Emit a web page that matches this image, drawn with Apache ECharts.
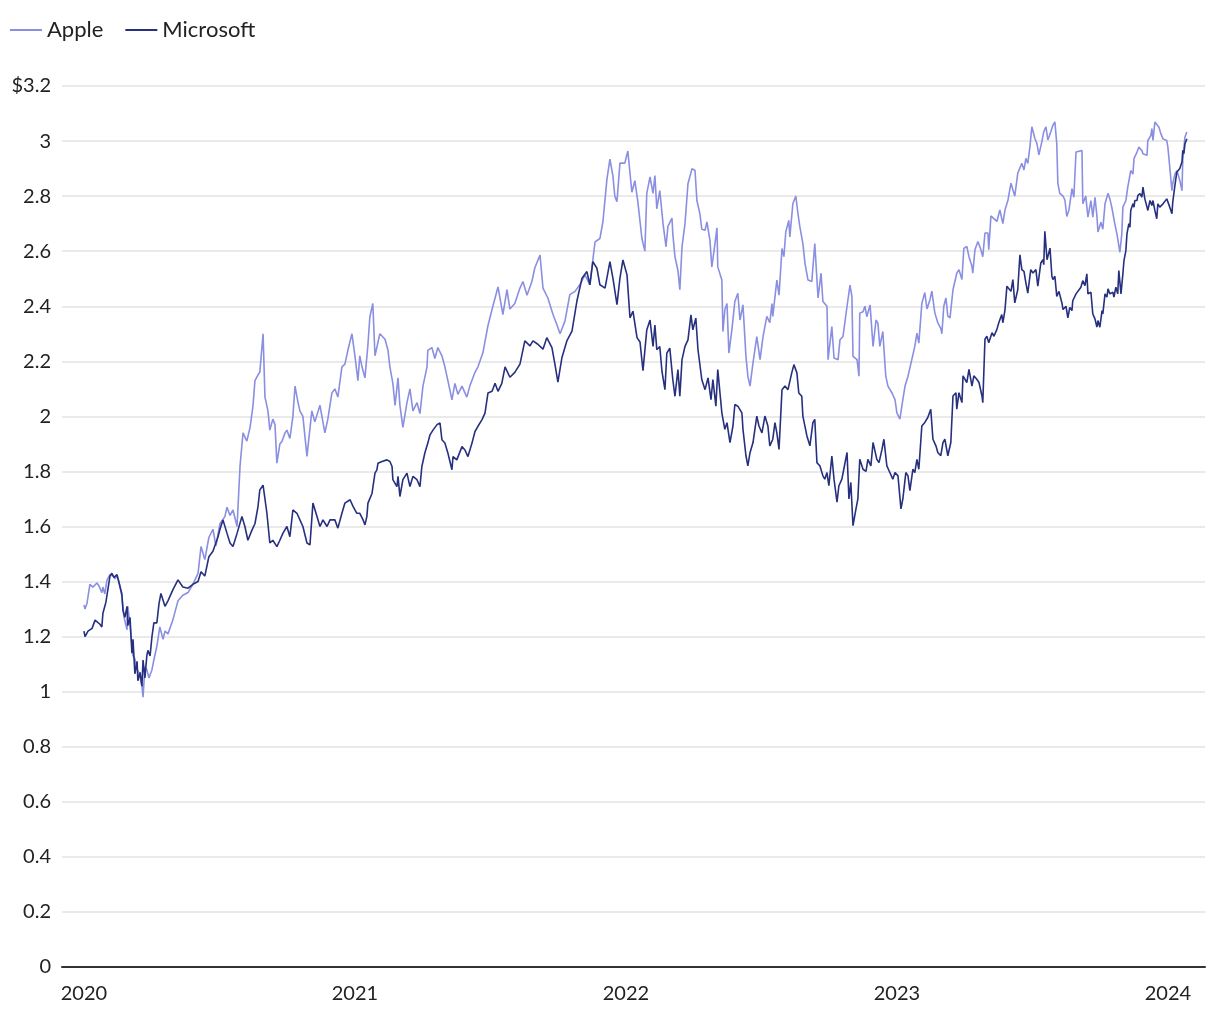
<!DOCTYPE html>
<html>
<head>
<meta charset="utf-8">
<script src="https://cdn.jsdelivr.net/npm/echarts@6/dist/echarts.min.js"></script>
<style>
html,body{margin:0;padding:0;background:#fff;}
#chart{width:1220px;height:1020px;}
</style>
</head>
<body>
<div id="chart"></div>
<script>
// Market capitalisation, trillions of US dollars. Time as decimal years.
const seriesNames = ['Apple', 'Microsoft'];
const yearTicks = [2020, 2021, 2022, 2023, 2024];

const appleT = [
2020.000,2020.004,2020.011,2020.022,2020.033,2020.048,2020.055,2020.066,2020.070,2020.077,2020.085,2020.096,2020.107,2020.114,2020.122,2020.129,2020.140,2020.148,2020.159,2020.162,2020.170,2020.181,2020.188,2020.196,2020.203,2020.214,2020.218,2020.225,2020.232,2020.240,2020.251,2020.258,2020.269,2020.280,2020.292,2020.299,2020.310,2020.328,2020.347,2020.365,2020.384,2020.402,2020.421,2020.432,2020.446,2020.461,2020.476,2020.487,2020.502,2020.520,2020.528,2020.539,2020.550,2020.565,2020.576,2020.587,2020.601,2020.613,2020.624,2020.631,2020.642,2020.649,2020.661,2020.668,2020.679,2020.686,2020.697,2020.705,2020.712,2020.723,2020.731,2020.742,2020.749,2020.760,2020.771,2020.779,2020.790,2020.797,2020.808,2020.823,2020.827,2020.841,2020.852,2020.871,2020.889,2020.900,2020.915,2020.926,2020.937,2020.952,2020.963,2020.974,2020.989,
2021.000,2021.011,2021.018,2021.026,2021.037,2021.048,2021.055,2021.066,2021.074,2021.092,2021.111,2021.122,2021.129,2021.140,2021.148,2021.159,2021.166,2021.177,2021.192,2021.203,2021.214,2021.229,2021.240,2021.251,2021.266,2021.269,2021.284,2021.295,2021.306,2021.321,2021.332,2021.343,2021.358,2021.369,2021.380,2021.395,2021.413,2021.424,2021.443,2021.454,2021.472,2021.491,2021.509,2021.528,2021.546,2021.561,2021.572,2021.590,2021.609,2021.620,2021.635,2021.653,2021.664,2021.683,2021.694,2021.712,2021.731,2021.745,2021.757,2021.775,2021.793,2021.812,2021.830,2021.849,2021.867,2021.886,2021.904,2021.915,2021.930,2021.941,2021.952,2021.959,2021.967,2021.978,2021.996,
2022.007,2022.022,2022.033,2022.044,2022.059,2022.070,2022.077,2022.089,2022.100,2022.107,2022.114,2022.125,2022.137,2022.148,2022.155,2022.170,2022.173,2022.181,2022.192,2022.199,2022.207,2022.218,2022.229,2022.244,2022.255,2022.262,2022.273,2022.280,2022.292,2022.299,2022.310,2022.317,2022.325,2022.336,2022.339,2022.354,2022.358,2022.365,2022.373,2022.380,2022.391,2022.402,2022.413,2022.421,2022.432,2022.443,2022.450,2022.458,2022.469,2022.483,2022.495,2022.506,2022.520,2022.531,2022.539,2022.542,2022.557,2022.565,2022.576,2022.583,2022.590,2022.601,2022.605,2022.616,2022.627,2022.635,2022.642,2022.653,2022.661,2022.672,2022.686,2022.697,2022.709,2022.720,2022.727,2022.742,2022.746,2022.760,2022.768,2022.783,2022.790,2022.801,2022.816,2022.827,2022.834,2022.838,2022.853,2022.860,2022.863,2022.875,2022.882,2022.889,2022.901,2022.912,2022.923,2022.930,2022.937,2022.948,2022.959,2022.967,2022.982,2022.993,
2023.000,2023.011,2023.022,2023.030,2023.041,2023.055,2023.066,2023.074,2023.081,2023.092,2023.103,2023.111,2023.122,2023.129,2023.140,2023.151,2023.162,2023.166,2023.173,2023.181,2023.188,2023.196,2023.207,2023.221,2023.229,2023.240,2023.247,2023.258,2023.266,2023.277,2023.280,2023.288,2023.299,2023.310,2023.317,2023.325,2023.336,2023.339,2023.347,2023.354,2023.369,2023.380,2023.391,2023.399,2023.410,2023.421,2023.428,2023.435,2023.446,2023.461,2023.469,2023.476,2023.483,2023.491,2023.498,2023.509,2023.517,2023.524,2023.535,2023.542,2023.550,2023.557,2023.568,2023.576,2023.583,2023.590,2023.594,2023.601,2023.613,2023.620,2023.627,2023.635,2023.646,2023.653,2023.661,2023.668,2023.683,2023.686,2023.697,2023.705,2023.716,2023.723,2023.731,2023.738,2023.742,2023.753,2023.760,2023.768,2023.779,2023.786,2023.793,2023.804,2023.812,2023.823,2023.830,2023.834,2023.845,2023.852,2023.863,2023.871,2023.875,2023.886,2023.893,2023.904,2023.908,2023.915,2023.923,2023.926,2023.937,2023.941,2023.945,2023.952,2023.959,2023.967,2023.974,2023.982,2023.996,
2024.000,2024.007,2024.015,2024.018,2024.026,2024.033,2024.037,2024.044,2024.052,2024.055,2024.063,2024.070
];
const appleV = [
1.315,1.30,1.32,1.39,1.38,1.395,1.385,1.36,1.38,1.355,1.405,1.425,1.42,1.41,1.42,1.40,1.345,1.27,1.225,1.31,1.24,1.13,1.12,1.08,1.07,1.02,0.98,1.09,1.08,1.05,1.08,1.115,1.165,1.235,1.19,1.22,1.21,1.26,1.33,1.35,1.36,1.39,1.43,1.527,1.48,1.56,1.59,1.53,1.61,1.636,1.67,1.64,1.66,1.60,1.82,1.94,1.91,1.96,2.04,2.13,2.15,2.16,2.30,2.07,2.02,1.95,1.99,1.97,1.83,1.90,1.91,1.94,1.95,1.92,2.00,2.11,2.05,2.02,2.00,1.855,1.86,2.02,1.98,2.04,1.94,1.99,2.085,2.10,2.07,2.18,2.19,2.24,2.30,
2.22,2.13,2.22,2.18,2.14,2.26,2.36,2.41,2.22,2.30,2.28,2.24,2.18,2.12,2.04,2.14,2.04,1.96,2.05,2.10,2.02,2.05,2.01,2.11,2.18,2.24,2.25,2.21,2.25,2.22,2.18,2.13,2.06,2.12,2.08,2.11,2.07,2.11,2.16,2.18,2.23,2.33,2.40,2.47,2.37,2.46,2.39,2.41,2.466,2.49,2.44,2.49,2.54,2.586,2.466,2.43,2.37,2.334,2.30,2.346,2.442,2.454,2.478,2.514,2.478,2.634,2.646,2.706,2.862,2.934,2.874,2.80,2.78,2.92,2.92,
2.964,2.814,2.856,2.78,2.646,2.60,2.81,2.87,2.81,2.875,2.754,2.82,2.70,2.616,2.69,2.72,2.664,2.58,2.53,2.46,2.616,2.70,2.845,2.90,2.893,2.784,2.736,2.68,2.676,2.706,2.64,2.543,2.60,2.685,2.543,2.495,2.308,2.387,2.41,2.23,2.314,2.417,2.447,2.35,2.405,2.218,2.146,2.11,2.194,2.29,2.206,2.29,2.363,2.34,2.41,2.363,2.495,2.44,2.61,2.58,2.67,2.712,2.652,2.772,2.80,2.736,2.688,2.628,2.555,2.495,2.49,2.628,2.43,2.52,2.417,2.40,2.206,2.326,2.212,2.206,2.278,2.29,2.40,2.477,2.435,2.218,2.206,2.146,2.375,2.38,2.40,2.362,2.405,2.254,2.35,2.338,2.254,2.308,2.146,2.11,2.085,2.061,
2.013,1.99,2.061,2.11,2.146,2.206,2.254,2.302,2.266,2.41,2.45,2.39,2.424,2.455,2.376,2.34,2.32,2.30,2.40,2.43,2.364,2.358,2.46,2.52,2.533,2.497,2.61,2.617,2.58,2.545,2.52,2.605,2.635,2.605,2.58,2.666,2.666,2.605,2.728,2.726,2.708,2.75,2.70,2.75,2.786,2.847,2.823,2.80,2.883,2.919,2.895,2.937,2.919,2.98,3.052,3.01,2.99,2.95,2.998,3.034,3.052,3.004,3.034,3.058,3.07,2.99,2.847,2.81,2.80,2.786,2.726,2.75,2.827,2.796,2.96,2.966,2.966,2.772,2.80,2.724,2.784,2.724,2.796,2.73,2.67,2.705,2.68,2.772,2.81,2.79,2.76,2.70,2.663,2.596,2.663,2.76,2.784,2.833,2.893,2.88,2.936,2.96,2.978,2.966,2.954,2.96,2.948,3.002,3.02,3.045,3.002,3.069,3.075,3.05,3.027,3.008,3.002,
2.978,2.905,2.82,2.845,2.88,2.893,2.88,2.857,2.82,2.93,3.015,3.033
];

const msftT = [
2020.000,2020.004,2020.015,2020.030,2020.041,2020.048,2020.059,2020.066,2020.070,2020.081,2020.089,2020.096,2020.103,2020.111,2020.122,2020.129,2020.140,2020.144,2020.151,2020.159,2020.162,2020.170,2020.177,2020.181,2020.188,2020.196,2020.199,2020.207,2020.214,2020.218,2020.225,2020.232,2020.236,2020.244,2020.251,2020.258,2020.269,2020.277,2020.284,2020.299,2020.310,2020.328,2020.347,2020.365,2020.384,2020.402,2020.421,2020.432,2020.446,2020.461,2020.476,2020.494,2020.502,2020.513,2020.528,2020.539,2020.550,2020.565,2020.583,2020.594,2020.605,2020.620,2020.631,2020.642,2020.649,2020.661,2020.675,2020.686,2020.697,2020.712,2020.723,2020.734,2020.749,2020.760,2020.771,2020.786,2020.797,2020.808,2020.823,2020.834,2020.845,2020.860,2020.871,2020.882,2020.897,2020.908,2020.926,2020.937,2020.952,2020.963,2020.982,2020.993,
2021.007,2021.018,2021.030,2021.037,2021.044,2021.048,2021.063,2021.074,2021.081,2021.085,2021.100,2021.118,2021.129,2021.137,2021.140,2021.155,2021.159,2021.166,2021.177,2021.192,2021.203,2021.214,2021.229,2021.240,2021.247,2021.258,2021.269,2021.277,2021.288,2021.303,2021.314,2021.321,2021.332,2021.343,2021.358,2021.362,2021.376,2021.395,2021.406,2021.417,2021.432,2021.443,2021.454,2021.469,2021.480,2021.491,2021.506,2021.517,2021.528,2021.542,2021.554,2021.572,2021.590,2021.609,2021.627,2021.646,2021.657,2021.675,2021.694,2021.708,2021.727,2021.738,2021.749,2021.764,2021.782,2021.801,2021.819,2021.838,2021.856,2021.867,2021.878,2021.893,2021.904,2021.923,2021.941,2021.952,2021.967,2021.978,2021.989,
2022.004,2022.015,2022.026,2022.041,2022.052,2022.063,2022.077,2022.089,2022.100,2022.107,2022.114,2022.125,2022.133,2022.144,2022.151,2022.162,2022.173,2022.181,2022.192,2022.199,2022.207,2022.218,2022.229,2022.240,2022.247,2022.258,2022.266,2022.280,2022.292,2022.303,2022.314,2022.321,2022.332,2022.339,2022.354,2022.365,2022.373,2022.384,2022.395,2022.402,2022.413,2022.428,2022.432,2022.443,2022.450,2022.458,2022.469,2022.483,2022.491,2022.502,2022.513,2022.524,2022.531,2022.542,2022.550,2022.557,2022.565,2022.576,2022.587,2022.598,2022.612,2022.620,2022.631,2022.638,2022.649,2022.653,2022.668,2022.679,2022.690,2022.697,2022.705,2022.716,2022.727,2022.734,2022.742,2022.749,2022.760,2022.768,2022.779,2022.786,2022.797,2022.804,2022.816,2022.823,2022.830,2022.838,2022.849,2022.856,2022.863,2022.875,2022.886,2022.893,2022.904,2022.912,2022.926,2022.934,2022.945,2022.952,2022.963,2022.974,2022.985,2022.993,
2023.004,2023.015,2023.022,2023.033,2023.041,2023.048,2023.059,2023.066,2023.074,2023.081,2023.092,2023.103,2023.114,2023.125,2023.133,2023.144,2023.151,2023.162,2023.170,2023.177,2023.188,2023.199,2023.207,2023.218,2023.221,2023.229,2023.240,2023.244,2023.258,2023.266,2023.277,2023.284,2023.295,2023.303,2023.314,2023.317,2023.325,2023.332,2023.339,2023.351,2023.358,2023.369,2023.376,2023.387,2023.391,2023.399,2023.406,2023.410,2023.421,2023.428,2023.435,2023.446,2023.454,2023.461,2023.469,2023.476,2023.483,2023.494,2023.502,2023.513,2023.520,2023.531,2023.539,2023.542,2023.546,2023.554,2023.565,2023.572,2023.576,2023.583,2023.590,2023.598,2023.609,2023.613,2023.624,2023.631,2023.638,2023.646,2023.649,2023.661,2023.668,2023.679,2023.686,2023.694,2023.701,2023.705,2023.716,2023.723,2023.731,2023.738,2023.742,2023.749,2023.757,2023.760,2023.768,2023.775,2023.779,2023.786,2023.797,2023.801,2023.808,2023.815,2023.819,2023.827,2023.834,2023.838,2023.845,2023.849,2023.856,2023.860,2023.863,2023.871,2023.875,2023.878,2023.886,2023.889,2023.897,2023.904,2023.908,2023.915,2023.923,2023.926,2023.934,2023.941,2023.945,2023.952,2023.959,2023.963,2023.970,2023.982,2023.996,
2024.007,2024.015,2024.018,2024.026,2024.033,2024.037,2024.044,2024.052,2024.055,2024.059,2024.063,2024.070
];
const msftV = [
1.22,1.20,1.22,1.23,1.26,1.265,1.245,1.235,1.285,1.325,1.375,1.42,1.43,1.415,1.425,1.42,1.355,1.295,1.27,1.31,1.24,1.27,1.14,1.19,1.065,1.11,1.04,1.07,1.02,1.115,1.05,1.13,1.15,1.13,1.20,1.25,1.25,1.32,1.357,1.31,1.33,1.37,1.406,1.38,1.376,1.39,1.40,1.436,1.42,1.49,1.51,1.56,1.59,1.624,1.575,1.54,1.527,1.575,1.636,1.60,1.55,1.587,1.61,1.67,1.733,1.75,1.65,1.54,1.55,1.527,1.55,1.575,1.60,1.563,1.66,1.648,1.624,1.60,1.54,1.533,1.685,1.636,1.60,1.624,1.60,1.624,1.624,1.594,1.648,1.685,1.697,1.673,
1.648,1.648,1.624,1.606,1.636,1.685,1.72,1.794,1.806,1.83,1.836,1.842,1.836,1.818,1.77,1.745,1.782,1.709,1.77,1.794,1.745,1.782,1.77,1.745,1.818,1.867,1.903,1.933,1.95,1.97,1.976,1.915,1.903,1.867,1.806,1.854,1.842,1.89,1.878,1.854,1.903,1.945,1.964,1.988,2.012,2.085,2.091,2.12,2.091,2.12,2.18,2.142,2.16,2.19,2.274,2.256,2.274,2.262,2.244,2.286,2.25,2.19,2.124,2.214,2.274,2.31,2.418,2.502,2.526,2.478,2.562,2.538,2.478,2.466,2.562,2.502,2.406,2.502,2.568,
2.514,2.358,2.382,2.286,2.27,2.166,2.314,2.35,2.254,2.332,2.242,2.254,2.164,2.097,2.23,2.248,2.134,2.073,2.17,2.073,2.206,2.254,2.278,2.369,2.314,2.357,2.242,2.134,2.097,2.14,2.061,2.134,2.037,2.17,2.013,1.953,1.977,1.905,1.965,2.043,2.037,2.013,1.953,1.857,1.82,1.868,1.905,2.001,1.965,1.94,2.001,1.965,1.893,1.917,1.977,1.94,1.88,2.097,2.11,2.097,2.158,2.188,2.158,2.085,2.073,2.001,1.929,1.893,1.977,1.989,1.832,1.82,1.784,1.772,1.796,1.748,1.856,1.772,1.688,1.748,1.772,1.808,1.869,1.70,1.76,1.603,1.664,1.70,1.844,1.808,1.80,1.844,1.82,1.905,1.844,1.832,1.88,1.917,1.82,1.796,1.772,1.796,
1.784,1.664,1.70,1.796,1.784,1.73,1.808,1.796,1.844,1.808,1.965,1.978,1.996,2.026,1.917,1.893,1.869,1.857,1.905,1.917,1.857,1.905,2.074,2.086,2.026,2.086,2.05,2.147,2.123,2.171,2.11,2.147,2.135,2.123,2.074,2.05,2.28,2.291,2.267,2.304,2.291,2.316,2.34,2.37,2.34,2.388,2.473,2.479,2.454,2.497,2.412,2.46,2.587,2.533,2.527,2.485,2.448,2.533,2.521,2.533,2.473,2.557,2.569,2.551,2.672,2.569,2.611,2.509,2.497,2.509,2.436,2.454,2.412,2.388,2.40,2.358,2.396,2.384,2.42,2.445,2.451,2.469,2.493,2.475,2.518,2.445,2.451,2.372,2.354,2.324,2.348,2.324,2.384,2.372,2.445,2.433,2.463,2.445,2.451,2.433,2.469,2.445,2.53,2.445,2.518,2.566,2.602,2.663,2.70,2.687,2.748,2.772,2.76,2.784,2.784,2.802,2.809,2.796,2.833,2.79,2.76,2.748,2.784,2.766,2.784,2.748,2.718,2.772,2.76,2.772,2.79,
2.76,2.736,2.778,2.839,2.887,2.893,2.90,2.924,2.966,2.954,2.99,3.008
];

function zip(t, v) { return t.map((x, i) => [x, v[i]]); }

const chart = echarts.init(document.getElementById('chart'), null, { renderer: 'canvas' });
const FONT = 'Lato, "Noto Sans", sans-serif';
chart.setOption({
  animation: false,
  backgroundColor: '#ffffff',
  textStyle: { fontFamily: FONT },
  legend: {
    left: 5, top: 14,
    icon: 'rect', itemWidth: 32, itemHeight: 2, itemGap: 22,
    textStyle: { fontFamily: FONT, fontSize: 22, color: '#222' },
    data: seriesNames
  },
  grid: { left: 62, right: 15, top: 86, bottom: 53, containLabel: false },
  xAxis: {
    type: 'value',
    min: 2019.919, max: 2024.137,
    axisLine: { show: true, lineStyle: { color: '#333', width: 2 } },
    axisTick: { show: false },
    splitLine: { show: false },
    axisLabel: {
      customValues: yearTicks,
      margin: 17,
      fontFamily: FONT, fontSize: 20, color: '#222',
      formatter: v => String(Math.round(v))
    }
  },
  yAxis: {
    type: 'value', min: 0, max: 3.2, interval: 0.2,
    axisLine: { show: false }, axisTick: { show: false },
    splitLine: { lineStyle: { color: '#e3e3e3', width: 1.5 } },
    axisLabel: {
      margin: 11, fontFamily: FONT, fontSize: 20, color: '#222',
      formatter: v => {
        const s = String(Math.round(v * 10) / 10);
        return Math.abs(v - 3.2) < 1e-9 ? '$' + s : s;
      }
    }
  },
  series: [
    { name: 'Apple', type: 'line', data: zip(appleT, appleV), symbol: 'none', showSymbol: false,
      lineStyle: { color: '#8a8fe2', width: 1.6 }, itemStyle: { color: '#8a8fe2' }, z: 2 },
    { name: 'Microsoft', type: 'line', data: zip(msftT, msftV), symbol: 'none', showSymbol: false,
      lineStyle: { color: '#27307e', width: 1.6 }, itemStyle: { color: '#27307e' }, z: 3 }
  ]
});
</script>
</body>
</html>
